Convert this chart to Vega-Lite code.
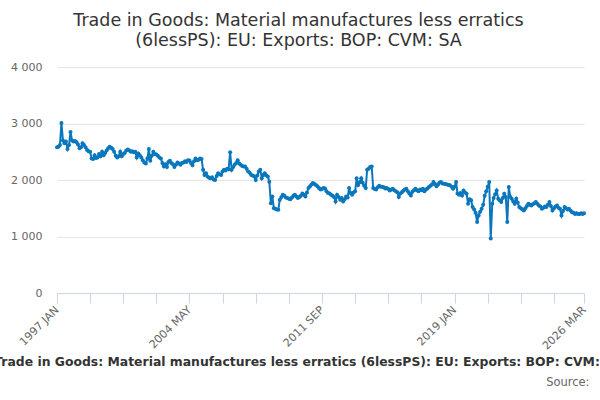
{
  "$schema": "https://vega.github.io/schema/vega-lite/v6.json",
  "width": 527,
  "height": 226,
  "autosize": {"type": "none"},
  "padding": {"left": 57, "top": 67, "right": 16, "bottom": 107},
  "background": "white",
  "config": {"font": "DejaVu Sans", "view": {"stroke": null}},
  "title": {
    "text": ["Trade in Goods: Material manufactures less erratics", "(6lessPS): EU: Exports: BOP: CVM: SA"],
    "fontSize": 17.5, "fontWeight": "normal", "color": "#333333", "anchor": "middle",
    "frame": "group", "lineHeight": 20, "offset": 12, "dx": -22
  },
  "data": {
    "format": {"parse": {"d": "utc:'%Y-%m'"}},
    "values": [
      {"d":"1997-01","v":2580},{"d":"1997-02","v":2590},{"d":"1997-03","v":2620},{"d":"1997-04","v":3010},{"d":"1997-05","v":2700},{"d":"1997-06","v":2650},{"d":"1997-07","v":2680},{"d":"1997-08","v":2550},{"d":"1997-09","v":2620},{"d":"1997-10","v":2850},{"d":"1997-11","v":2700},{"d":"1997-12","v":2680},
      {"d":"1998-01","v":2690},{"d":"1998-02","v":2670},{"d":"1998-03","v":2630},{"d":"1998-04","v":2560},{"d":"1998-05","v":2580},{"d":"1998-06","v":2650},{"d":"1998-07","v":2620},{"d":"1998-08","v":2580},{"d":"1998-09","v":2530},{"d":"1998-10","v":2510},{"d":"1998-11","v":2500},{"d":"1998-12","v":2380},
      {"d":"1999-01","v":2370},{"d":"1999-02","v":2440},{"d":"1999-03","v":2390},{"d":"1999-04","v":2400},{"d":"1999-05","v":2460},{"d":"1999-06","v":2420},{"d":"1999-07","v":2500},{"d":"1999-08","v":2440},{"d":"1999-09","v":2480},{"d":"1999-10","v":2520},{"d":"1999-11","v":2560},{"d":"1999-12","v":2590},
      {"d":"2000-01","v":2570},{"d":"2000-02","v":2550},{"d":"2000-03","v":2500},{"d":"2000-04","v":2430},{"d":"2000-05","v":2400},{"d":"2000-06","v":2420},{"d":"2000-07","v":2500},{"d":"2000-08","v":2420},{"d":"2000-09","v":2460},{"d":"2000-10","v":2480},{"d":"2000-11","v":2520},{"d":"2000-12","v":2540},
      {"d":"2001-01","v":2520},{"d":"2001-02","v":2500},{"d":"2001-03","v":2510},{"d":"2001-04","v":2490},{"d":"2001-05","v":2500},{"d":"2001-06","v":2400},{"d":"2001-07","v":2470},{"d":"2001-08","v":2440},{"d":"2001-09","v":2400},{"d":"2001-10","v":2350},{"d":"2001-11","v":2310},{"d":"2001-12","v":2290},
      {"d":"2002-01","v":2380},{"d":"2002-02","v":2550},{"d":"2002-03","v":2340},{"d":"2002-04","v":2430},{"d":"2002-05","v":2500},{"d":"2002-06","v":2460},{"d":"2002-07","v":2450},{"d":"2002-08","v":2430},{"d":"2002-09","v":2400},{"d":"2002-10","v":2380},{"d":"2002-11","v":2300},{"d":"2002-12","v":2240},
      {"d":"2003-01","v":2280},{"d":"2003-02","v":2230},{"d":"2003-03","v":2320},{"d":"2003-04","v":2340},{"d":"2003-05","v":2300},{"d":"2003-06","v":2280},{"d":"2003-07","v":2230},{"d":"2003-08","v":2270},{"d":"2003-09","v":2310},{"d":"2003-10","v":2290},{"d":"2003-11","v":2270},{"d":"2003-12","v":2300},
      {"d":"2004-01","v":2310},{"d":"2004-02","v":2330},{"d":"2004-03","v":2320},{"d":"2004-04","v":2350},{"d":"2004-05","v":2345},{"d":"2004-06","v":2300},{"d":"2004-07","v":2260},{"d":"2004-08","v":2330},{"d":"2004-09","v":2380},{"d":"2004-10","v":2350},{"d":"2004-11","v":2360},{"d":"2004-12","v":2380},
      {"d":"2005-01","v":2370},{"d":"2005-02","v":2180},{"d":"2005-03","v":2090},{"d":"2005-04","v":2120},{"d":"2005-05","v":2060},{"d":"2005-06","v":2040},{"d":"2005-07","v":2030},{"d":"2005-08","v":2050},{"d":"2005-09","v":2010},{"d":"2005-10","v":2000},{"d":"2005-11","v":2070},{"d":"2005-12","v":2120},
      {"d":"2006-01","v":2100},{"d":"2006-02","v":2090},{"d":"2006-03","v":2150},{"d":"2006-04","v":2180},{"d":"2006-05","v":2170},{"d":"2006-06","v":2200},{"d":"2006-07","v":2190},{"d":"2006-08","v":2490},{"d":"2006-09","v":2180},{"d":"2006-10","v":2230},{"d":"2006-11","v":2270},{"d":"2006-12","v":2300},
      {"d":"2007-01","v":2350},{"d":"2007-02","v":2290},{"d":"2007-03","v":2270},{"d":"2007-04","v":2250},{"d":"2007-05","v":2240},{"d":"2007-06","v":2240},{"d":"2007-07","v":2200},{"d":"2007-08","v":2150},{"d":"2007-09","v":2130},{"d":"2007-10","v":2090},{"d":"2007-11","v":2080},{"d":"2007-12","v":2060},
      {"d":"2008-01","v":2000},{"d":"2008-02","v":2080},{"d":"2008-03","v":2150},{"d":"2008-04","v":2180},{"d":"2008-05","v":2030},{"d":"2008-06","v":2090},{"d":"2008-07","v":2120},{"d":"2008-08","v":2080},{"d":"2008-09","v":2060},{"d":"2008-10","v":1970},{"d":"2008-11","v":1590},{"d":"2008-12","v":1710},
      {"d":"2009-01","v":1500},{"d":"2009-02","v":1490},{"d":"2009-03","v":1480},{"d":"2009-04","v":1475},{"d":"2009-05","v":1650},{"d":"2009-06","v":1700},{"d":"2009-07","v":1740},{"d":"2009-08","v":1720},{"d":"2009-09","v":1690},{"d":"2009-10","v":1680},{"d":"2009-11","v":1670},{"d":"2009-12","v":1660},
      {"d":"2010-01","v":1690},{"d":"2010-02","v":1720},{"d":"2010-03","v":1740},{"d":"2010-04","v":1710},{"d":"2010-05","v":1680},{"d":"2010-06","v":1700},{"d":"2010-07","v":1720},{"d":"2010-08","v":1760},{"d":"2010-09","v":1740},{"d":"2010-10","v":1710},{"d":"2010-11","v":1780},{"d":"2010-12","v":1860},
      {"d":"2011-01","v":1890},{"d":"2011-02","v":1920},{"d":"2011-03","v":1945},{"d":"2011-04","v":1930},{"d":"2011-05","v":1910},{"d":"2011-06","v":1890},{"d":"2011-07","v":1860},{"d":"2011-08","v":1830},{"d":"2011-09","v":1840},{"d":"2011-10","v":1860},{"d":"2011-11","v":1850},{"d":"2011-12","v":1800},
      {"d":"2012-01","v":1770},{"d":"2012-02","v":1760},{"d":"2012-03","v":1740},{"d":"2012-04","v":1720},{"d":"2012-05","v":1700},{"d":"2012-06","v":1620},{"d":"2012-07","v":1740},{"d":"2012-08","v":1700},{"d":"2012-09","v":1650},{"d":"2012-10","v":1680},{"d":"2012-11","v":1620},{"d":"2012-12","v":1660},
      {"d":"2013-01","v":1710},{"d":"2013-02","v":1690},{"d":"2013-03","v":1860},{"d":"2013-04","v":1770},{"d":"2013-05","v":1740},{"d":"2013-06","v":1780},{"d":"2013-07","v":1800},{"d":"2013-08","v":2030},{"d":"2013-09","v":1910},{"d":"2013-10","v":1960},{"d":"2013-11","v":2030},{"d":"2013-12","v":1950},
      {"d":"2014-01","v":1900},{"d":"2014-02","v":1860},{"d":"2014-03","v":2180},{"d":"2014-04","v":2200},{"d":"2014-05","v":2230},{"d":"2014-06","v":2240},{"d":"2014-07","v":1860},{"d":"2014-08","v":1840},{"d":"2014-09","v":1830},{"d":"2014-10","v":1870},{"d":"2014-11","v":1900},{"d":"2014-12","v":1880},
      {"d":"2015-01","v":1880},{"d":"2015-02","v":1870},{"d":"2015-03","v":1850},{"d":"2015-04","v":1860},{"d":"2015-05","v":1840},{"d":"2015-06","v":1815},{"d":"2015-07","v":1830},{"d":"2015-08","v":1845},{"d":"2015-09","v":1820},{"d":"2015-10","v":1800},{"d":"2015-11","v":1785},{"d":"2015-12","v":1700},
      {"d":"2016-01","v":1760},{"d":"2016-02","v":1785},{"d":"2016-03","v":1810},{"d":"2016-04","v":1830},{"d":"2016-05","v":1845},{"d":"2016-06","v":1800},{"d":"2016-07","v":1760},{"d":"2016-08","v":1725},{"d":"2016-09","v":1790},{"d":"2016-10","v":1820},{"d":"2016-11","v":1845},{"d":"2016-12","v":1820},
      {"d":"2017-01","v":1800},{"d":"2017-02","v":1830},{"d":"2017-03","v":1820},{"d":"2017-04","v":1845},{"d":"2017-05","v":1800},{"d":"2017-06","v":1830},{"d":"2017-07","v":1850},{"d":"2017-08","v":1875},{"d":"2017-09","v":1900},{"d":"2017-10","v":1920},{"d":"2017-11","v":1965},{"d":"2017-12","v":1930},
      {"d":"2018-01","v":1890},{"d":"2018-02","v":1920},{"d":"2018-03","v":1950},{"d":"2018-04","v":1965},{"d":"2018-05","v":1940},{"d":"2018-06","v":1935},{"d":"2018-07","v":1930},{"d":"2018-08","v":1920},{"d":"2018-09","v":1910},{"d":"2018-10","v":1905},{"d":"2018-11","v":1880},{"d":"2018-12","v":1845},
      {"d":"2019-01","v":1880},{"d":"2019-02","v":1965},{"d":"2019-03","v":1760},{"d":"2019-04","v":1740},{"d":"2019-05","v":1770},{"d":"2019-06","v":1725},{"d":"2019-07","v":1815},{"d":"2019-08","v":1780},{"d":"2019-09","v":1755},{"d":"2019-10","v":1580},{"d":"2019-11","v":1660},{"d":"2019-12","v":1640},
      {"d":"2020-01","v":1520},{"d":"2020-02","v":1480},{"d":"2020-03","v":1420},{"d":"2020-04","v":1255},{"d":"2020-05","v":1370},{"d":"2020-06","v":1440},{"d":"2020-07","v":1490},{"d":"2020-08","v":1560},{"d":"2020-09","v":1720},{"d":"2020-10","v":1800},{"d":"2020-11","v":1880},{"d":"2020-12","v":1965},
      {"d":"2021-01","v":965},{"d":"2021-02","v":1580},{"d":"2021-03","v":1680},{"d":"2021-04","v":1750},{"d":"2021-05","v":1815},{"d":"2021-06","v":1670},{"d":"2021-07","v":1640},{"d":"2021-08","v":1610},{"d":"2021-09","v":1680},{"d":"2021-10","v":1755},{"d":"2021-11","v":1700},{"d":"2021-12","v":1255},
      {"d":"2022-01","v":1875},{"d":"2022-02","v":1700},{"d":"2022-03","v":1670},{"d":"2022-04","v":1620},{"d":"2022-05","v":1580},{"d":"2022-06","v":1670},{"d":"2022-07","v":1600},{"d":"2022-08","v":1520},{"d":"2022-09","v":1500},{"d":"2022-10","v":1480},{"d":"2022-11","v":1460},{"d":"2022-12","v":1500},
      {"d":"2023-01","v":1540},{"d":"2023-02","v":1580},{"d":"2023-03","v":1560},{"d":"2023-04","v":1550},{"d":"2023-05","v":1570},{"d":"2023-06","v":1590},{"d":"2023-07","v":1610},{"d":"2023-08","v":1580},{"d":"2023-09","v":1550},{"d":"2023-10","v":1530},{"d":"2023-11","v":1490},{"d":"2023-12","v":1510},
      {"d":"2024-01","v":1530},{"d":"2024-02","v":1520},{"d":"2024-03","v":1560},{"d":"2024-04","v":1610},{"d":"2024-05","v":1540},{"d":"2024-06","v":1460},{"d":"2024-07","v":1500},{"d":"2024-08","v":1530},{"d":"2024-09","v":1550},{"d":"2024-10","v":1510},{"d":"2024-11","v":1490},{"d":"2024-12","v":1370},
      {"d":"2025-01","v":1450},{"d":"2025-02","v":1520},{"d":"2025-03","v":1500},{"d":"2025-04","v":1480},{"d":"2025-05","v":1490},{"d":"2025-06","v":1460},{"d":"2025-07","v":1430},{"d":"2025-08","v":1420},{"d":"2025-09","v":1400},{"d":"2025-10","v":1410},{"d":"2025-11","v":1400},{"d":"2025-12","v":1400},
      {"d":"2026-01","v":1410},{"d":"2026-02","v":1400},{"d":"2026-03","v":1410}
    ]
  },
  "layer": [
    {
      "mark": {"type": "line", "color": "#0a77bd", "strokeWidth": 2},
      "encoding": {
        "x": {
          "field": "d", "type": "temporal", "scale": {"type": "utc"},
          "axis": {
            "orient": "bottom",
            "values": [
              {"year": 1997, "month": 1, "date": 1, "utc": true},
              {"year": 1998, "month": 11, "date": 1, "utc": true},
              {"year": 2000, "month": 9, "date": 1, "utc": true},
              {"year": 2002, "month": 7, "date": 1, "utc": true},
              {"year": 2004, "month": 5, "date": 1, "utc": true},
              {"year": 2006, "month": 3, "date": 1, "utc": true},
              {"year": 2008, "month": 1, "date": 1, "utc": true},
              {"year": 2009, "month": 11, "date": 1, "utc": true},
              {"year": 2011, "month": 9, "date": 1, "utc": true},
              {"year": 2013, "month": 7, "date": 1, "utc": true},
              {"year": 2015, "month": 5, "date": 1, "utc": true},
              {"year": 2017, "month": 3, "date": 1, "utc": true},
              {"year": 2019, "month": 1, "date": 1, "utc": true},
              {"year": 2020, "month": 11, "date": 1, "utc": true},
              {"year": 2022, "month": 9, "date": 1, "utc": true},
              {"year": 2024, "month": 7, "date": 1, "utc": true},
              {"year": 2026, "month": 3, "date": 1, "utc": true}
            ],
            "labelExpr": "((utcyear(datum.value)-1997)*12+utcmonth(datum.value)) % 88 == 0 || ((utcyear(datum.value)-1997)*12+utcmonth(datum.value)) == 350 ? upper(utcFormat(datum.value, '%Y %b')) : ''",
            "labelAngle": -45, "labelAlign": "right", "labelBaseline": "middle",
            "labelColor": "#666666", "labelFontSize": 11, "labelPadding": 5, "labelOverlap": false,
            "tickColor": "#ccd6eb", "tickSize": 10, "domainColor": "#ccd6eb", "grid": false,
            "title": "Trade in Goods: Material manufactures less erratics (6lessPS): EU: Exports: BOP: CVM: SA",
            "titleFontSize": 12.4, "titleFontWeight": "bold", "titleColor": "#333333",
            "titleX": 251, "titleY": 72, "titleAlign": "center", "titleBaseline": "alphabetic"
          }
        },
        "y": {
          "field": "v", "type": "quantitative",
          "scale": {"domain": [0, 4000], "nice": false},
          "axis": {
            "values": [0, 1000, 2000, 3000, 4000],
            "labelExpr": "replace(format(datum.value, ','), ',', ' ')",
            "domain": false, "ticks": false, "gridColor": "#e6e6e6",
            "labelColor": "#666666", "labelFontSize": 11, "labelPadding": 15, "title": null
          }
        }
      }
    },
    {
      "mark": {"type": "circle", "color": "#0a77bd", "size": 16, "opacity": 1},
      "encoding": {
        "x": {
          "field": "d", "type": "temporal", "scale": {"type": "utc"},
          "axis": {
            "orient": "bottom",
            "labels": false, "ticks": false, "domain": false, "grid": false,
            "title": "Source:", "titleFontSize": 11.5, "titleFontWeight": "normal", "titleColor": "#666666",
            "titleX": 532, "titleY": 92, "titleAlign": "right", "titleBaseline": "alphabetic"
          }
        },
        "y": {"field": "v", "type": "quantitative"}
      }
    }
  ],
  "resolve": {"scale": {"x": "independent"}, "axis": {"x": "independent"}}
}
